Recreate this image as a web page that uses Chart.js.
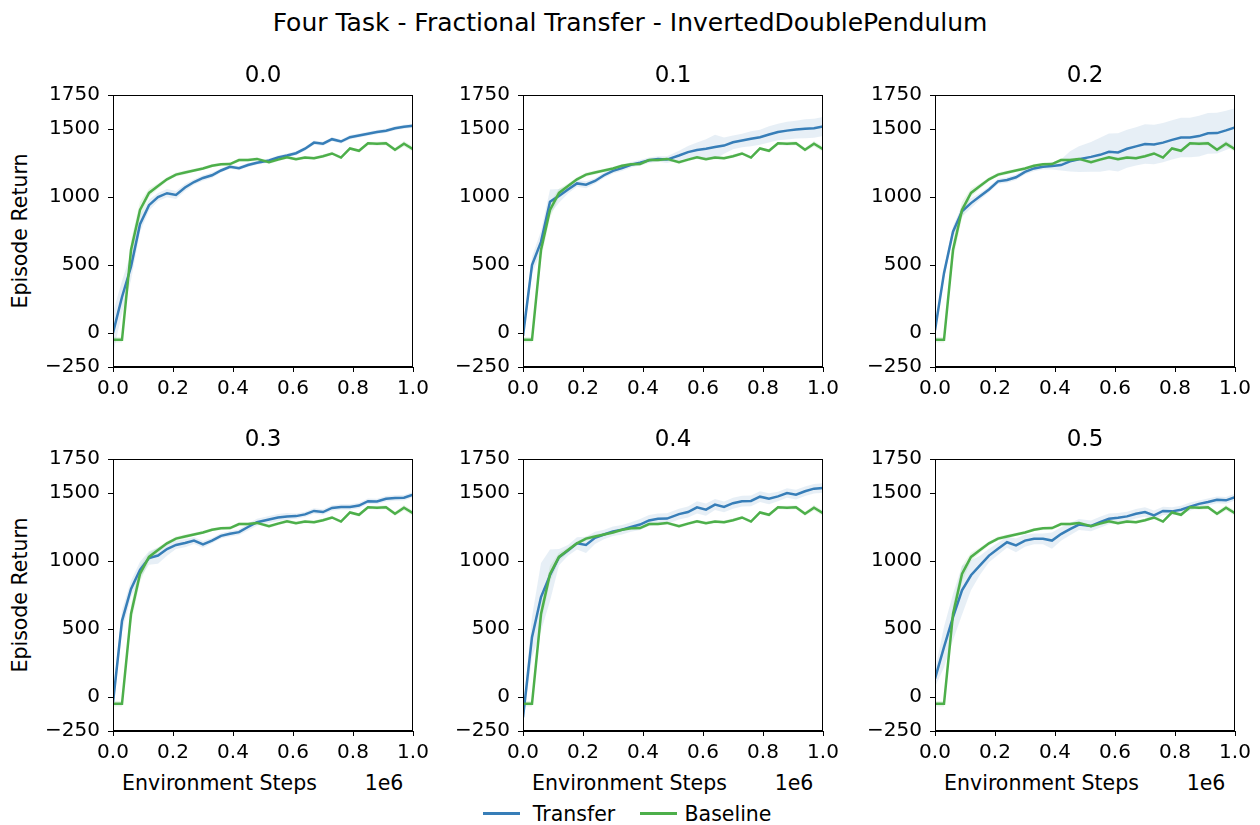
<!DOCTYPE html>
<html>
<head>
<meta charset="utf-8">
<script src="https://cdn.jsdelivr.net/npm/chart.js@4.4.0/dist/chart.umd.min.js"></script>
<style>
  body { margin: 0; background: #fff; width: 1260px; height: 825px; position: relative; overflow: hidden; font-family: "DejaVu Sans", sans-serif; color: #000; }
  .t { position: absolute; white-space: nowrap; line-height: 1; transform: translate(-50%, -50%); }
  .panel { position: absolute; }
  .key { position: absolute; height: 3px; width: 37px; }
</style>
</head>
<body>
<div class="t" id="suptitle" style="left:630px;top:22px;font-size:25px">Four Task - Fractional Transfer - InvertedDoublePendulum</div>
<div class="t" style="left:20px;top:231px;font-size:20.5px;transform:translate(-50%,-50%) rotate(-90deg)">Episode Return</div>
<div class="t" style="left:20px;top:595px;font-size:20.5px;transform:translate(-50%,-50%) rotate(-90deg)">Episode Return</div>
<div class="key" style="left:483px;top:812px;background:#377eb8"></div>
<div class="t" style="left:574px;top:814px;font-size:20.5px">Transfer</div>
<div class="key" style="left:640px;top:812px;background:#4daf4a"></div>
<div class="t" style="left:728px;top:814px;font-size:20.5px">Baseline</div>
<script>
// x positions in units of 1e6 environment steps
const steps = [0, 0.03, 0.06, 0.09, 0.12, 0.15, 0.18, 0.21, 0.24, 0.27, 0.30, 0.33, 0.36, 0.39, 0.42, 0.45, 0.48,
  0.52, 0.55, 0.58, 0.61, 0.64, 0.67, 0.70, 0.73, 0.76, 0.79, 0.82, 0.85, 0.88, 0.91, 0.94, 0.97, 1.0];

const baseline = [-50, -50, 610, 905, 1030, 1080, 1130, 1165, 1180, 1195, 1210, 1230, 1240, 1242, 1272, 1272, 1280,
  1255, 1275, 1292, 1278, 1290, 1285, 1300, 1320, 1290, 1357, 1340, 1395, 1392, 1395, 1347, 1392, 1352];
const baselineSpread = [20, 20, 70, 60, 30, 20, 15, 15, 15, 12, 12, 12, 12, 12, 12, 12, 12,
  12, 12, 12, 12, 12, 12, 12, 12, 12, 12, 12, 12, 15, 15, 15, 20, 20];

const fractions = ["0.0", "0.1", "0.2", "0.3", "0.4", "0.5"];

const transfer00 = [0, 265, 487, 800, 940, 1000, 1028, 1015, 1070, 1110, 1140, 1160, 1195, 1222, 1212, 1235, 1252,
  1268, 1290, 1305, 1322, 1355, 1400, 1392, 1425, 1408, 1440, 1452, 1465, 1478, 1487, 1505, 1517, 1524];
const spread00 = [150, 120, 100, 60, 40, 30, 30, 30, 25, 20, 20, 20, 15, 15, 15, 15, 15,
  15, 15, 15, 15, 15, 15, 15, 15, 15, 15, 15, 15, 15, 15, 15, 15, 15];

const transfer01 = [-20, 500, 670, 965, 1008, 1055, 1100, 1090, 1118, 1160, 1192, 1212, 1237, 1252, 1270, 1280, 1275,
  1305, 1330, 1345, 1355, 1367, 1378, 1402, 1415, 1428, 1440, 1460, 1478, 1488, 1496, 1502, 1505, 1519];
const spread01 = [40, 60, 80, 90, 50, 30, 25, 25, 20, 20, 20, 20, 20, 20, 20, 20, 25,
  35, 45, 55, 70, 90, 60, 50, 50, 55, 55, 60, 60, 65, 65, 70, 70, 70];

const transfer02 = [20, 440, 745, 895, 955, 1005, 1055, 1115, 1125, 1145, 1185, 1210, 1222, 1228, 1235, 1262, 1278,
  1295, 1310, 1332, 1328, 1355, 1372, 1390, 1386, 1400, 1420, 1437, 1438, 1448, 1468, 1470, 1490, 1512];
const spread02 = [30, 40, 40, 40, 35, 25, 20, 20, 20, 20, 20, 20, 20, 25, 40, 75, 95,
  110, 125, 135, 140, 140, 140, 145, 145, 145, 145, 145, 145, 150, 150, 150, 145, 140];

const transfer03 = [-40, 560, 795, 935, 1022, 1040, 1088, 1118, 1132, 1150, 1122, 1150, 1185, 1200, 1212, 1250, 1285,
  1305, 1320, 1328, 1330, 1343, 1368, 1360, 1390, 1397, 1397, 1408, 1440, 1438, 1458, 1463, 1465, 1488];
const spread03 = [60, 80, 60, 60, 50, 60, 50, 30, 30, 25, 25, 20, 20, 20, 20, 25, 25,
  25, 25, 25, 20, 20, 20, 20, 20, 20, 20, 20, 20, 20, 20, 20, 20, 20];

const transfer04 = [-150, 440, 735, 895, 1028, 1078, 1130, 1118, 1170, 1195, 1218, 1230, 1250, 1268, 1298, 1310, 1312,
  1345, 1360, 1395, 1378, 1415, 1398, 1425, 1440, 1442, 1473, 1458, 1475, 1500, 1488, 1513, 1532, 1537];
const spread04 = [50, 150, 250, 190, 60, 40, 45, 60, 45, 35, 35, 35, 35, 40, 40, 40, 40,
  40, 40, 45, 45, 40, 40, 40, 40, 40, 40, 40, 35, 35, 35, 35, 35, 35];

const transfer05 = [135, 367, 588, 784, 895, 968, 1040, 1090, 1138, 1115, 1150, 1163, 1163, 1150, 1198, 1235, 1268,
  1258, 1285, 1310, 1318, 1328, 1347, 1360, 1336, 1368, 1365, 1377, 1400, 1420, 1434, 1450, 1446, 1470];
const spread05 = [60, 150, 170, 180, 110, 70, 50, 45, 40, 50, 45, 40, 40, 60, 50, 45, 40,
  40, 40, 40, 35, 35, 35, 35, 35, 30, 30, 30, 30, 25, 25, 25, 25, 25];

const transferRuns = [transfer00, transfer01, transfer02, transfer03, transfer04, transfer05];
const spreadRuns = [spread00, spread01, spread02, spread03, spread04, spread05];

const xTicks = [0, 0.2, 0.4, 0.6, 0.8, 1.0];
const yTicks = [-250, 0, 500, 1000, 1500, 1750];

const plotLefts = [113, 523, 935];
const plotTops = [95, 459];
const plotW = 300, plotH = 272;
const padL = 70, padT = 14, padR = 24, padB = 38;

const blue = "#377eb8";
const green = "#4daf4a";
const font = { family: "DejaVu Sans", size: 20 };

const toPoints = (ys) => ys.map((y, i) => ({ x: steps[i], y: y }));

const frame = {
  id: "frame",
  afterDraw(chart) {
    const { ctx, chartArea: a } = chart;
    ctx.save();
    ctx.strokeStyle = "#000";
    ctx.lineWidth = 1;
    ctx.strokeRect(Math.round(a.left) + 0.5, Math.round(a.top) + 0.5, Math.round(a.right - a.left) - 1, Math.round(a.bottom - a.top) - 1);
    ctx.restore();
  },
};

const bandLine = (ys, fill, color) => ({
  data: toPoints(ys),
  borderColor: "rgba(0,0,0,0)",
  borderWidth: 1,
  pointRadius: 0,
  fill: fill,
  backgroundColor: color,
});

const addText = (txt, x, y, size, extra) => {
  const d = document.createElement("div");
  d.className = "t";
  d.textContent = txt;
  d.style.left = x + "px";
  d.style.top = y + "px";
  d.style.fontSize = size + "px";
  if (extra) d.style.transform = extra;
  document.body.appendChild(d);
};

fractions.forEach((frac, k) => {
  const col = k % 3, row = Math.floor(k / 3);
  const left = plotLefts[col], top = plotTops[row];

  const holder = document.createElement("div");
  holder.className = "panel";
  const canvas = document.createElement("canvas");
  canvas.width = padL + plotW + padR;
  canvas.height = padT + plotH + padB;
  holder.appendChild(canvas);
  document.body.appendChild(holder);

  addText(frac, left + plotW / 2, top - 21, 23);
  if (row === 1) {
    addText("Environment Steps", left + 106.5, 783, 20.5);
    addText("1e6", left + plotW - 29, 783, 20.5);
  }

  const tr = transferRuns[k];
  const sp = spreadRuns[k];

  const chart = new Chart(canvas.getContext("2d"), {
    type: "line",
    data: {
      datasets: [
        { label: "Baseline", data: toPoints(baseline), borderColor: green, borderWidth: 2.5, pointRadius: 0, fill: false },
        { label: "Transfer", data: toPoints(tr), borderColor: blue, borderWidth: 2.5, pointRadius: 0, fill: false },
        bandLine(baseline.map((v, i) => v + baselineSpread[i]), "+1", "rgba(77,175,74,0.12)"),
        bandLine(baseline.map((v, i) => v - baselineSpread[i]), false, "rgba(0,0,0,0)"),
        bandLine(tr.map((v, i) => v + sp[i]), "+1", "rgba(55,126,184,0.12)"),
        bandLine(tr.map((v, i) => v - sp[i]), false, "rgba(0,0,0,0)"),
      ],
    },
    options: {
      responsive: false,
      maintainAspectRatio: false,
      animation: false,
      layout: { padding: { top: padT, right: padR, left: 0, bottom: 0 } },
      plugins: { legend: { display: false }, tooltip: { enabled: false } },
      scales: {
        x: {
          type: "linear",
          min: 0,
          max: 1,
          afterBuildTicks: (a) => { a.ticks = xTicks.map((v) => ({ value: v })); },
          afterFit: (s) => { s.height = padB; },
          ticks: { font: font, color: "#000", padding: 5, maxRotation: 0, autoSkip: false, callback: (v) => Number(v).toFixed(1) },
          grid: { drawOnChartArea: false, drawTicks: true, tickLength: 5, color: "#000", lineWidth: 1 },
          border: { color: "#000", width: 1 },
        },
        y: {
          min: -250,
          max: 1750,
          afterBuildTicks: (a) => { a.ticks = yTicks.map((v) => ({ value: v })); },
          afterFit: (s) => { s.width = padL; },
          ticks: { font: font, color: "#000", padding: 8, autoSkip: false, callback: (v) => (v < 0 ? "\u2212" + Math.abs(v) : String(v)) },
          grid: { drawOnChartArea: false, drawTicks: true, tickLength: 5, color: "#000", lineWidth: 1 },
          border: { color: "#000", width: 1 },
        },
      },
    },
    plugins: [frame],
  });

  // grow the canvas so the plot area keeps its size, then line it up with the grid
  const a = chart.chartArea;
  const w = Math.round(a.left) + plotW + Math.round(canvas.width - a.right);
  const h = Math.round(a.top) + plotH + Math.round(canvas.height - a.bottom);
  chart.resize(w, h);
  const b = chart.chartArea;
  holder.style.left = (left - Math.round(b.left)) + "px";
  holder.style.top = (top - Math.round(b.top)) + "px";
});
</script>
</body>
</html>
